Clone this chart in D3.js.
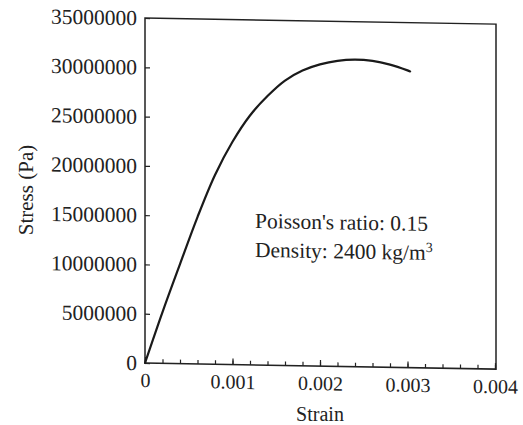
<!DOCTYPE html>
<html>
<head>
<meta charset="utf-8">
<script src="https://cdn.jsdelivr.net/npm/d3@7"></script>
<style>
  html, body { margin: 0; padding: 0; background: #fff; }
  svg { display: block; }
  text { font-family: "Liberation Serif", "Times New Roman", serif; fill: #222; }
</style>
</head>
<body>
<svg id="chart" width="523" height="425"></svg>
<script>
// ---- data ----
const strain = [0, 0.0002, 0.0004, 0.0006, 0.0008, 0.001, 0.0012, 0.0014, 0.0016, 0.0018, 0.002, 0.0022, 0.0024, 0.0026, 0.0028, 0.003, 0.00303];
const stress = [0, 5.2e6, 10.1e6, 14.9e6, 19.2e6, 22.6e6, 25.3e6, 27.3e6, 28.9e6, 29.95e6, 30.6e6, 31.0e6, 31.15e6, 31.05e6, 30.7e6, 30.15e6, 30.05e6];
const xTicks = [0, 0.001, 0.002, 0.003, 0.004];
const xTickLabels = ["0", "0.001", "0.002", "0.003", "0.004"];
const xMinorTicks = d3.range(0, 21).map(i => i * 0.0002);
const yTicks = [0, 5000000, 10000000, 15000000, 20000000, 25000000, 30000000, 35000000];
const yTickLabels = ["0", "5000000", "10000000", "15000000", "20000000", "25000000", "30000000", "35000000"];
const xTitle = "Strain";
const yTitle = "Stress (Pa)";
const noteLine1 = "Poisson's ratio: 0.15";
const noteLine2 = "Density: 2400 kg/m";
const noteSup = "3";

// ---- layout ----
const svg = d3.select("#chart");
const mLeft = 145, mTop = 18, mBottom = 363, plotW = 350;
const ink = "#222";

const x = d3.scaleLinear().domain([0, 0.004]).range([0, plotW]);
const y = d3.scaleLinear().domain([0, 35000000]).range([mBottom, mTop]);

// slight skew like the scanned original
const g = svg.append("g").attr("transform", `translate(${mLeft},0) skewY(1)`);

// frame
g.append("rect")
  .attr("x", 0).attr("y", mTop)
  .attr("width", plotW + 1).attr("height", mBottom - mTop)
  .attr("fill", "none").attr("stroke", ink).attr("stroke-width", 1.5);

// x minor ticks
const xMinor = g.append("g").attr("transform", `translate(0,${mBottom})`)
  .call(d3.axisBottom(x).tickValues(xMinorTicks).tickSizeInner(-4).tickSizeOuter(0).tickFormat(""));
xMinor.select(".domain").remove();
xMinor.selectAll("line").attr("stroke", ink).attr("stroke-width", 1.2);

// x major axis
const xAxis = g.append("g").attr("transform", `translate(0,${mBottom})`)
  .call(d3.axisBottom(x).tickValues(xTicks).tickSizeInner(-6).tickSizeOuter(0)
    .tickPadding(10).tickFormat((d, i) => xTickLabels[i]));
xAxis.select(".domain").remove();
xAxis.selectAll("line").attr("stroke", ink).attr("stroke-width", 1.2);
xAxis.selectAll("text").attr("font-size", 20).attr("font-family", "Liberation Serif").attr("fill", ink);

// y axis
const yAxis = g.append("g")
  .call(d3.axisLeft(y).tickValues(yTicks).tickSizeInner(-5).tickSizeOuter(0)
    .tickPadding(8).tickFormat((d, i) => yTickLabels[i]));
yAxis.select(".domain").remove();
yAxis.selectAll("line").attr("stroke", ink).attr("stroke-width", 1.2);
yAxis.selectAll("text").attr("font-size", 21.5).attr("font-family", "Liberation Serif").attr("fill", ink);

// curve
const pts = strain.map((s, i) => [s, stress[i]]);
g.append("path")
  .datum(pts)
  .attr("fill", "none")
  .attr("stroke", "#1a1a1a")
  .attr("stroke-width", 2.2)
  .attr("stroke-linecap", "round")
  .attr("d", d3.line().x(d => x(d[0])).y(d => y(d[1])).curve(d3.curveCatmullRom));

// annotation
g.append("text").attr("x", 110).attr("y", 226).attr("font-size", 21.5).text(noteLine1);
const t2 = g.append("text").attr("x", 110).attr("y", 255).attr("font-size", 21.5);
t2.append("tspan").text(noteLine2);
t2.append("tspan").attr("dy", -8).attr("font-size", 14).text(noteSup);

// axis titles
svg.append("text")
  .attr("x", 320).attr("y", 421)
  .attr("text-anchor", "middle").attr("font-size", 20).text(xTitle);
svg.append("text")
  .attr("transform", "translate(33,190) rotate(-90)")
  .attr("text-anchor", "middle").attr("font-size", 21).text(yTitle);
</script>
</body>
</html>
